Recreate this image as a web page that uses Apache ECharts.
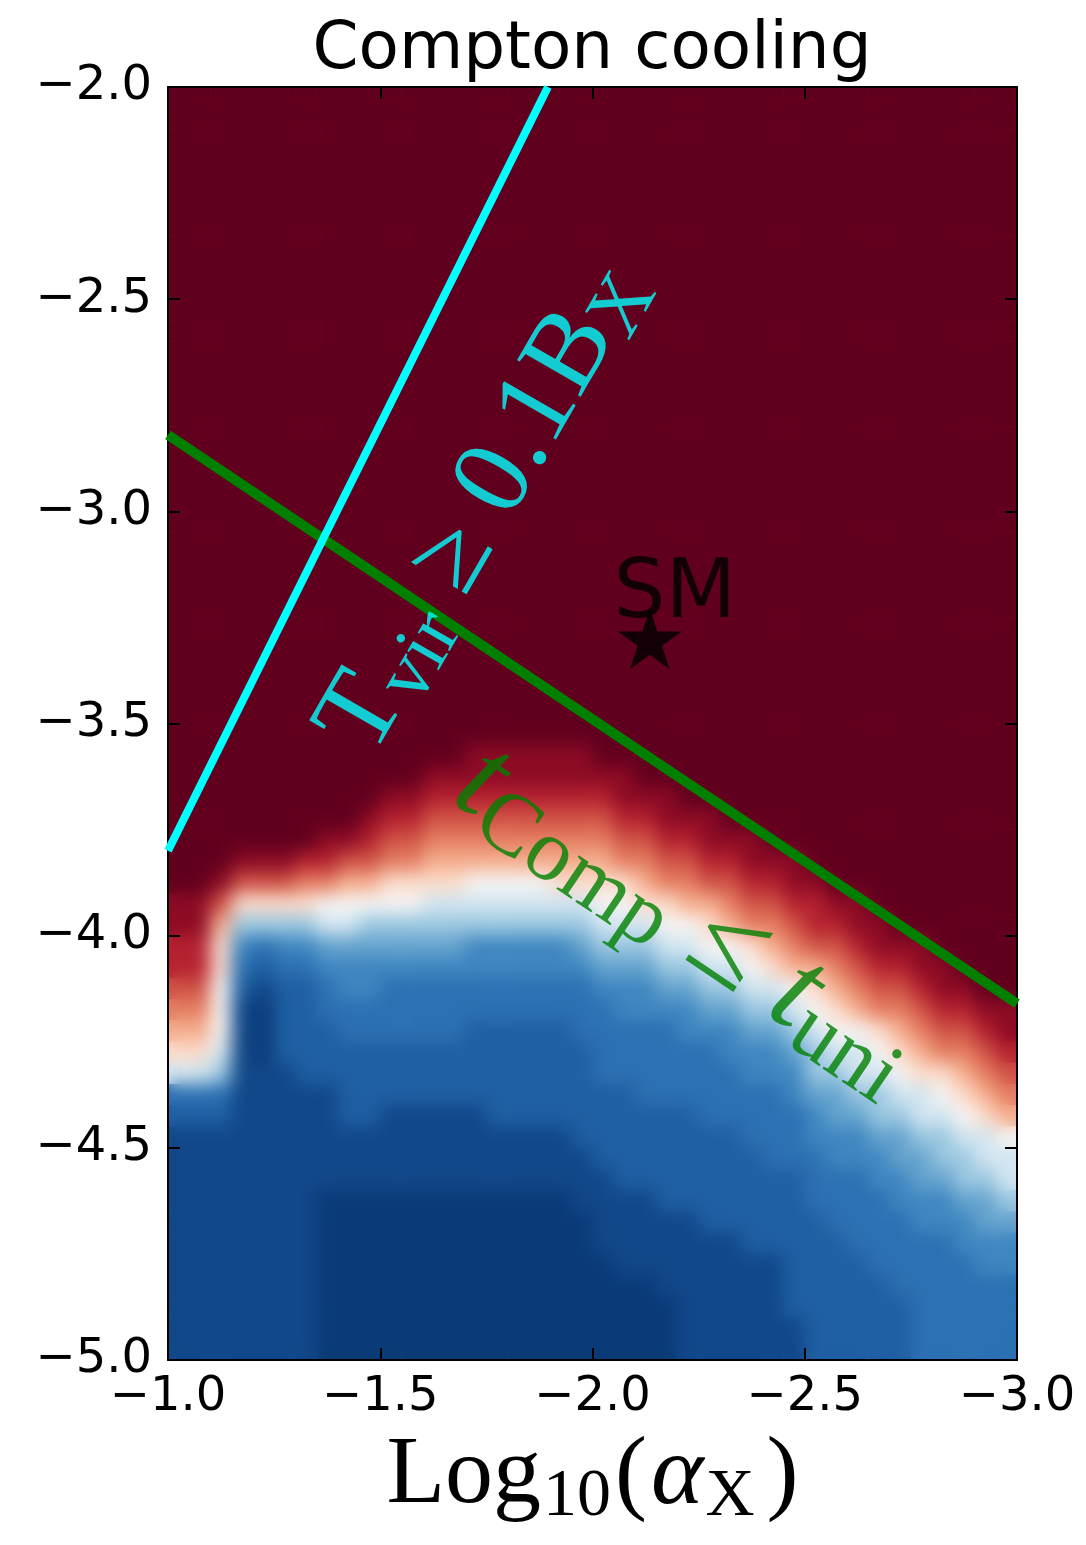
<!DOCTYPE html>
<html>
<head>
<meta charset="utf-8">
<script src="https://cdn.jsdelivr.net/npm/echarts@6/dist/echarts.min.js"></script>
<style>
html,body{margin:0;padding:0;background:#ffffff;}
#wrap{position:relative;width:1086px;height:1545px;overflow:hidden;}
.layer{position:absolute;left:0;top:0;width:1086px;height:1545px;}
#clip{position:absolute;left:168px;top:87px;width:849px;height:1273px;overflow:hidden;}
#heatSoft{position:absolute;left:-168px;top:-87px;width:1086px;height:1545px;filter:blur(9px);}
</style>
</head>
<body>
<div id="wrap">
  <div id="heatSharp" class="layer"></div>
  <div id="clip"><div id="heatSoft"></div></div>
  <div id="chart" class="layer"></div>
</div>
<script>
// ---------------- data ----------------
// x cell centres, Log10(alpha_X), left to right
const xCells = [-1.025,-1.075,-1.125,-1.175,-1.225,-1.275,-1.325,-1.375,-1.425,-1.475,
  -1.525,-1.575,-1.625,-1.675,-1.725,-1.775,-1.825,-1.875,-1.925,-1.975,
  -2.025,-2.075,-2.125,-2.175,-2.225,-2.275,-2.325,-2.375,-2.425,-2.475,
  -2.525,-2.575,-2.625,-2.675,-2.725,-2.775,-2.825,-2.875,-2.925,-2.975];
// y cell centres, bottom to top
const yCells = [-4.975,-4.925,-4.875,-4.825,-4.775,-4.725,-4.675,-4.625,-4.575,-4.525,
  -4.475,-4.425,-4.375,-4.325,-4.275,-4.225,-4.175,-4.125,-4.075,-4.025,
  -3.975,-3.925,-3.875,-3.825,-3.775,-3.725,-3.675,-3.625,-3.575,-3.525,
  -3.475,-3.425,-3.375,-3.325,-3.275,-3.225,-3.175,-3.125,-3.075,-3.025,
  -2.975,-2.925,-2.875,-2.825,-2.775,-2.725,-2.675,-2.625,-2.575,-2.525,
  -2.475,-2.425,-2.375,-2.325,-2.275,-2.225,-2.175,-2.125,-2.075,-2.025];
// colour level of each cell (hex digit, 0 = deepest blue ... f = deepest red),
// one string per x column, characters from the top row (y=-2.025) down to the bottom row (y=-4.975)
const levelColumns = [
  'ffffffffffffffffffffffffffff'+'ffffffffffeeddcba973211111111111',
  'ffffffffffffffffffffffffffff'+'ffffffffffeeddcba973211111111111',
  'ffffffffffffffffffffffffffff'+'fffffffffeca99888763211111111111',
  'ffffffffffffffffffffffffffff'+'ffffffffec9643211111111111111111',
  'ffffffffffffffffffffffffffff'+'ffffffffec9632100011111111111111',
  'ffffffffffffffffffffffffffff'+'ffffffffec9643222211111111111111',
  'ffffffffffffffffffffffffffff'+'ffffffffdb9643222221111111111111',
  'ffffffffffffffffffffffffffff'+'fffffffedb8754332221111100000000',
  'ffffffffffffffffffffffffffff'+'fffffffeca8754433222211100000000',
  'ffffffffffffffffffffffffffff'+'ffffffedca8654433222211100000000',
  'ffffffffffffffffffffffffffff'+'fffffedcb98654333222111100000000',
  'ffffffffffffffffffffffffffff'+'fffffedcb98654333222111100000000',
  'ffffffffffffffffffffffffffff'+'ffffedcba97654333222111100000000',
  'ffffffffffffffffffffffffffff'+'ffffedcba97654333222111100000000',
  'ffffffffffffffffffffffffffff'+'fffeedcba87644332222111100000000',
  'ffffffffffffffffffffffffffff'+'fffeedcba87644332222211100000000',
  'ffffffffffffffffffffffffffff'+'fffeedcba87644332222211100000000',
  'ffffffffffffffffffffffffffff'+'fffeedcba87644332222211100000000',
  'ffffffffffffffffffffffffffff'+'fffeedcba97644332222211100000000',
  'ffffffffffffffffffffffffffff'+'fffeedcba97654333222221110000000',
  'ffffffffffffffffffffffffffff'+'ffffedcba98765433332222111100000',
  'ffffffffffffffffffffffffffff'+'ffffeedcb98765443332222211110000',
  'ffffffffffffffffffffffffffff'+'fffffedcba9765443333222211110000',
  'ffffffffffffffffffffffffffff'+'fffffeedcb9876543333222221111000',
  'ffffffffffffffffffffffffffff'+'ffffffedcba876544333222221111111',
  'ffffffffffffffffffffffffffff'+'ffffffeedca987654333322222111111',
  'ffffffffffffffffffffffffffff'+'fffffffedcba87654433322222111111',
  'ffffffffffffffffffffffffffff'+'fffffffeedcb98765443332222211111',
  'ffffffffffffffffffffffffffff'+'ffffffffedcba9765443333222211111',
  'ffffffffffffffffffffffffffff'+'ffffffffeedcba876544333222222211',
  'ffffffffffffffffffffffffffff'+'fffffffffeddca987665443332222222',
  'ffffffffffffffffffffffffffff'+'ffffffffffedcba98765544333222222',
  'ffffffffffffffffffffffffffff'+'ffffffffffeedcba8776544333322222',
  'ffffffffffffffffffffffffffff'+'fffffffffffeedcb9876654433332222',
  'ffffffffffffffffffffffffffff'+'ffffffffffffedcba987655443333222',
  'ffffffffffffffffffffffffffff'+'ffffffffffffeedcba97765544333333',
  'ffffffffffffffffffffffffffff'+'fffffffffffffeedcb98766544333333',
  'ffffffffffffffffffffffffffff'+'ffffffffffffffedcba9876654433333',
  'ffffffffffffffffffffffffffff'+'fffffffffffffffedcba977655443333',
  'ffffffffffffffffffffffffffff'+'fffffffffffffffeedcba87765443333'
];
// Tvir >= 0.1 B_X boundary (cyan) and t_Comp <= t_uni boundary (green)
const virialLine = [[-1.0, -3.80], [-1.895, -2.0]];
const comptonLine = [[-1.0, -2.82], [-3.0, -4.16]];
// Standard Model point
const smPoint = [[-2.135, -3.30]];
const smLabel = ['SM'];
const titleText = 'Compton cooling';

// ---------------- build ----------------
levelColumns.forEach(function (s, j) {
  if (s.length !== yCells.length) throw new Error('column ' + j + ' has length ' + s.length);
});
const cells = [];
levelColumns.forEach(function (col, j) {
  for (let k = 0; k < col.length; k++) {
    cells.push([j, yCells.length - 1 - k, parseInt(col[k], 16)]);
  }
});

const levelColors = ['#0a3b77','#114889','#1f5fa3','#2c71b3','#3f87c0','#65a3ce','#9ac7e0','#d2e5f0',
  '#f5f4f3','#fbdccb','#f5ae8e','#e57f62','#d05446','#b52230','#8d0b25','#61001e'];

function fmt(v) { return (v < 0 ? '\u2212' : '') + Math.abs(v).toFixed(1); }

const tickFont = 'DejaVu Sans';
const serif = 'Liberation Serif';
const gridBox = { left: 168, right: 69, top: 87, bottom: 185, containLabel: false, outerBoundsMode: 'none' };

function heatOption() {
  return {
    animation: false,
    grid: gridBox,
    visualMap: {
      show: false, type: 'continuous', seriesIndex: 0, dimension: 2,
      min: 0, max: 15, inRange: { color: levelColors }
    },
    xAxis: [{ type: 'category', data: xCells, show: false }],
    yAxis: [{ type: 'category', data: yCells, show: false }],
    series: [{
      type: 'heatmap', data: cells, progressive: 0,
      emphasis: { disabled: true }, silent: true
    }]
  };
}
echarts.init(document.getElementById('heatSharp')).setOption(heatOption());
echarts.init(document.getElementById('heatSoft')).setOption(heatOption());

const frameAxisCommon = {
  type: 'value',
  splitLine: { show: false },
  axisLine: { show: true, onZero: false, lineStyle: { color: '#000', width: 2 } },
  axisTick: { show: true, inside: true, length: 12, lineStyle: { color: '#000', width: 2 } }
};

const chart = echarts.init(document.getElementById('chart'));
chart.setOption({
  animation: false,
  backgroundColor: 'transparent',
  grid: gridBox,
  graphic: [{
    type: 'text', x: 592, y: 51,
    style: { text: titleText, font: '66px "DejaVu Sans"', fill: '#000', textAlign: 'center', textVerticalAlign: 'middle' }
  }],
  xAxis: [
    Object.assign({}, frameAxisCommon, {
      min: -3, max: -1, interval: 0.5, inverse: true, position: 'bottom',
      axisLabel: { show: true, margin: 14, fontSize: 48, color: '#000', fontFamily: tickFont, formatter: fmt, showMinLabel: true, showMaxLabel: true },
      name: '{m|Log}{s|10}{m|(}{a|\u03b1}{x|X}{m|)}',
      nameLocation: 'middle', nameGap: 54,
      nameTextStyle: {
        rich: {
          m: { fontFamily: serif, fontSize: 96, lineHeight: 108, color: '#000' },
          a: { fontFamily: serif, fontStyle: 'italic', fontSize: 100, lineHeight: 108, color: '#000', padding: [0, 2, 0, 4] },
          s: { fontFamily: serif, fontSize: 68, lineHeight: 40, verticalAlign: 'bottom', color: '#000', padding: [0, 4, 0, 2] },
          x: { fontFamily: serif, fontSize: 68, lineHeight: 40, verticalAlign: 'bottom', color: '#000', padding: [0, 12, 0, 0] }
        }
      }
    }),
    Object.assign({}, frameAxisCommon, {
      min: -3, max: -1, interval: 0.5, inverse: true, position: 'top',
      axisLabel: { show: false }
    })
  ],
  yAxis: [
    Object.assign({}, frameAxisCommon, {
      min: -5, max: -2, interval: 0.5, position: 'left',
      axisLabel: { show: true, margin: 16, fontSize: 48, color: '#000', fontFamily: tickFont, formatter: fmt, showMinLabel: true, showMaxLabel: true }
    }),
    Object.assign({}, frameAxisCommon, {
      min: -5, max: -2, interval: 0.5, position: 'right',
      axisLabel: { show: false }
    })
  ],
  series: [
    {
      type: 'line', data: comptonLine,
      symbol: 'none', clip: true, lineStyle: { color: '#008000', width: 10 }, z: 3, silent: true
    },
    {
      type: 'line', data: virialLine,
      symbol: 'none', clip: true, lineStyle: { color: '#00ffff', width: 8 }, z: 4, silent: true
    },
    {
      type: 'scatter', data: [[-1.742, -2.990]],
      symbolSize: 1, itemStyle: { color: 'rgba(0,0,0,0)' }, z: 5, silent: true,
      label: {
        show: true, position: 'inside', rotate: 60,
        formatter: '{m|T}{s|vir}{m| \u2265 0.1B}{s|X}',
        rich: {
          m: { fontFamily: serif, fontSize: 112, lineHeight: 124, color: '#00ffff' },
          s: { fontFamily: serif, fontSize: 80, lineHeight: 56, verticalAlign: 'bottom', color: '#00ffff' }
        }
      }
    },
    {
      type: 'scatter', data: [[-2.218, -3.963]],
      symbolSize: 1, itemStyle: { color: 'rgba(0,0,0,0)' }, z: 5, silent: true,
      label: {
        show: true, position: 'inside', rotate: -34,
        formatter: '{i|t}{s|Comp}{m| \u2264 }{i|t}{s|uni}',
        rich: {
          i: { fontFamily: serif, fontStyle: 'italic', fontSize: 124, lineHeight: 134, color: '#008000' },
          m: { fontFamily: serif, fontSize: 124, lineHeight: 134, color: '#008000' },
          s: { fontFamily: serif, fontSize: 88, lineHeight: 62, verticalAlign: 'bottom', color: '#008000' }
        }
      }
    },
    {
      type: 'scatter', data: smPoint,
      symbol: 'path://M0,-1 L0.2245,-0.309 L0.951,-0.309 L0.363,0.118 L0.588,0.809 L0,0.382 L-0.588,0.809 L-0.363,0.118 L-0.951,-0.309 L-0.2245,-0.309 Z',
      symbolSize: [64, 61], itemStyle: { color: '#000' }, z: 6, silent: true
    },
    {
      type: 'scatter', data: [[-2.194, -3.200]],
      symbolSize: 1, itemStyle: { color: 'rgba(0,0,0,0)' }, z: 7, silent: true,
      label: { show: true, position: 'inside', formatter: smLabel[0], fontFamily: tickFont, fontSize: 82, color: '#000' }
    }
  ]
});
</script>
</body>
</html>
